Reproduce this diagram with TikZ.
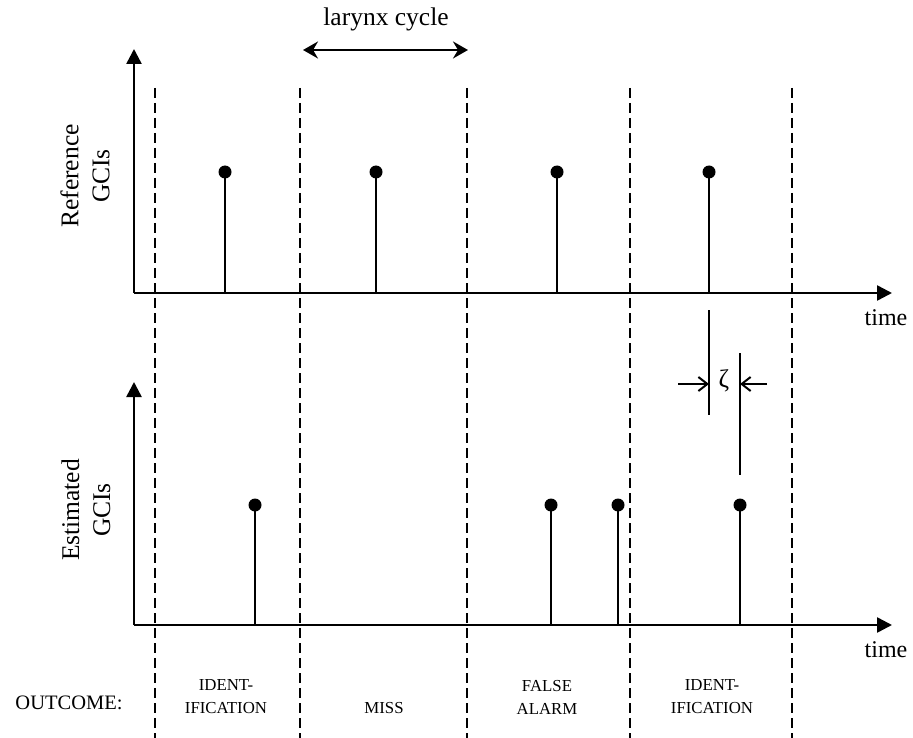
\documentclass[tikz,border=0pt]{standalone}
\usepackage{fontspec}
\setmainfont{Liberation Serif}
\usetikzlibrary{arrows.meta}
\begin{document}
\begin{tikzpicture}[x=1pt,y=-1pt,
  axis/.style={line width=2.5pt,-{Triangle[length=15pt,width=15pt]}},
  divider/.style={line width=2.4pt,dash pattern=on 10pt off 5pt},
  stem/.style={line width=2.5pt},
  head/.style={circle,fill=black,inner sep=0pt,minimum size=13pt},
  lbl/.style={font=\fontsize{25.5}{30}\selectfont,inner sep=0pt},
  tlbl/.style={font=\fontsize{24}{28}\selectfont,inner sep=0pt},
  outc/.style={font=\fontsize{16.8}{23}\selectfont,align=center,inner sep=0pt},
  dim/.style={line width=2pt,-{Straight Barb[length=9pt,width=14pt]}},
  span/.style={line width=2.5pt,{Stealth[length=15pt,width=17pt,inset=5pt]}-{Stealth[length=15pt,width=17pt,inset=5pt]}}]
\useasboundingbox (0,0) rectangle (913,738);
% axes
\coordinate (o1) at (134,293);
\coordinate (o2) at (134,625);
\coordinate (y1) at (134,49);
\coordinate (y2) at (134,382);
\coordinate (x1) at (892,293);
\coordinate (x2) at (892,625);
\draw[axis] (o1) -- (y1);
\draw[axis] (o1) -- (x1);
\draw[axis] (o2) -- (y2);
\draw[axis] (o2) -- (x2);
% dividers
\foreach \n/\x in {a/155,b/300,c/467,d/630,e/792}{
  \coordinate (d\n t) at (\x,88);
  \coordinate (d\n b) at (\x,738);
  \draw[divider] (d\n t) -- (d\n b);
}
% reference stems
\foreach \n/\x in {1/225,2/376,3/557,4/709}{
  \coordinate (rb\n) at (\x,293);
  \node[head] (rh\n) at (\x,172) {};
  \draw[stem] (rb\n) -- (rh\n.center);
}
% estimated stems
\foreach \n/\x in {1/255,2/551,3/618,4/740}{
  \coordinate (eb\n) at (\x,625);
  \node[head] (eh\n) at (\x,505) {};
  \draw[stem] (eb\n) -- (eh\n.center);
}
% larynx cycle
\coordinate (lcL) at (303,50);
\coordinate (lcR) at (468,50);
\draw[span] (lcL) -- (lcR);
\node[lbl] (lc) at (386,19) {larynx cycle};
% zeta
\coordinate (z1t) at (709,310);
\coordinate (z1b) at (709,415);
\coordinate (z2t) at (740,353);
\coordinate (z2b) at (740,475);
\draw[stem] (z1t) -- (z1b);
\draw[stem] (z2t) -- (z2b);
\coordinate (zl) at (678,384);
\coordinate (zla) at (709,384);
\coordinate (zr) at (767,384);
\coordinate (zra) at (740,384);
\draw[dim] (zl) -- (zla);
\draw[dim] (zr) -- (zra);
\node[lbl] (zeta) at (724,381) {ζ};
% labels
\node[lbl,rotate=90,align=center,font=\fontsize{25.5}{31}\selectfont] (refl) at (85,176) {Reference\\GCIs};
\node[lbl,rotate=90,align=center,font=\fontsize{25.5}{31}\selectfont] (estl) at (86,510) {Estimated\\GCIs};
\node[tlbl] (t1) at (886,318) {time};
\node[tlbl] (t2) at (886,650) {time};
% outcomes
\node[outc,font=\fontsize{20.5}{24}\selectfont] (oc) at (69,703) {OUTCOME:};
\node[outc] (o1l) at (226,697) {IDENT-\\IFICATION};
\node[outc] (o2l) at (384,708) {MISS};
\node[outc] (o3l) at (547,697) {FALSE\\ALARM};
\node[outc] (o4l) at (712,697) {IDENT-\\IFICATION};
\end{tikzpicture}
\end{document}
